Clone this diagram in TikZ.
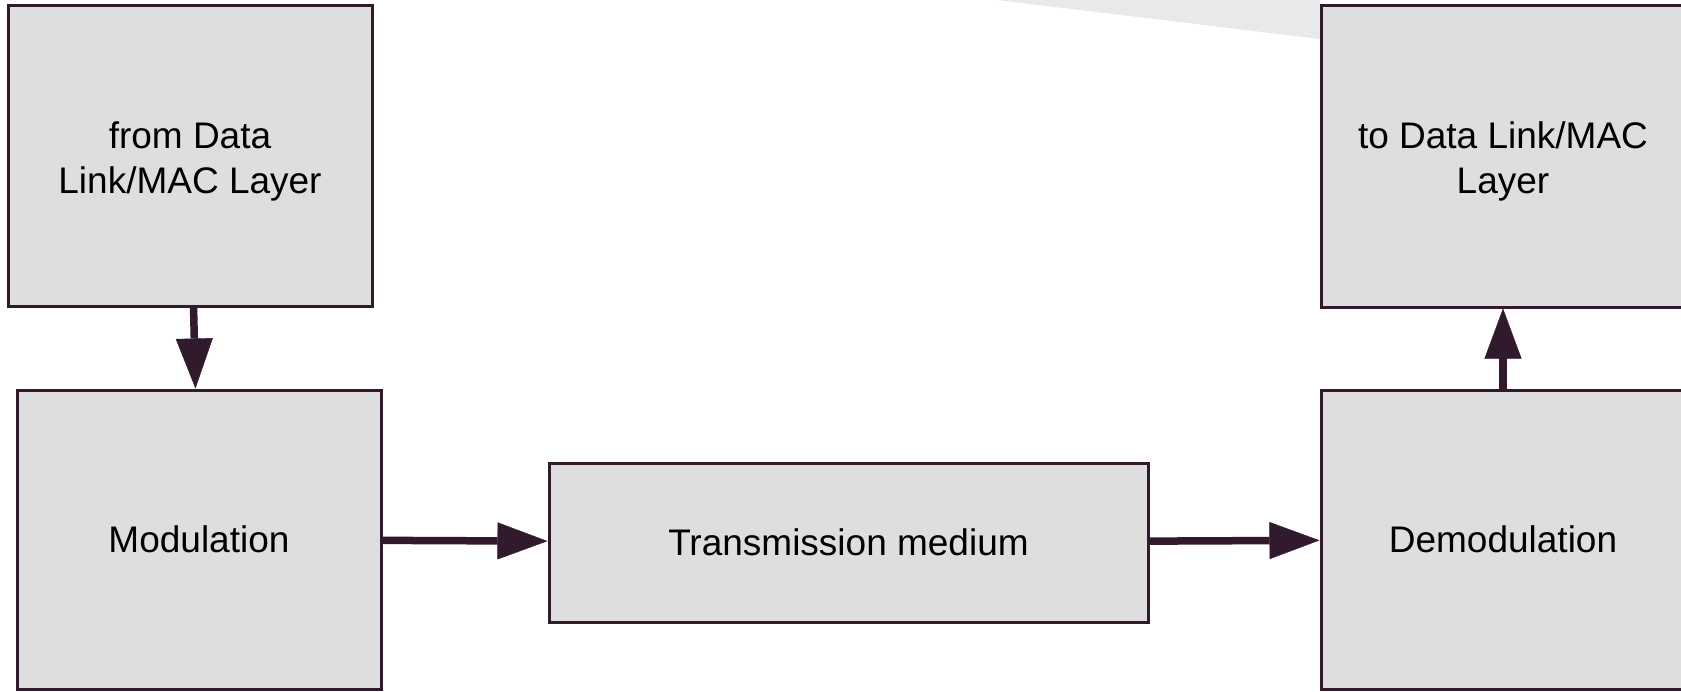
\documentclass[tikz,border=0pt]{standalone}
\usepackage{fontspec}
\setmainfont{Liberation Sans}
\usetikzlibrary{positioning,arrows.meta}

\definecolor{edgecol}{RGB}{50,26,46}
\definecolor{boxfill}{RGB}{222,222,222}
\definecolor{wedgegray}{RGB}{233,233,233}

\begin{document}
\begin{tikzpicture}[x=0.5pt,y=-0.5pt,
                    block/.style={rectangle,draw=edgecol,fill=boxfill,line width=1.5pt,
                                  inner sep=0pt,align=center,
                                  font=\fontsize{18.5}{22.5}\selectfont},
                    flow/.style={color=edgecol,line width=3.75pt,
                                 -{Triangle[length=25pt,width=18.5pt,line width=0.2pt]}}]

  \useasboundingbox (0,0) rectangle (1681,691);

  % shaded wedge behind the receiver side
  \fill[wedgegray] (997,0) -- (1320,39) -- (1320,0) -- cycle;

  \node[block,minimum width=182pt,minimum height=150.5pt] (from) at (190,155.5)
    {\raisebox{-3pt}[\height][\depth]{\begin{tabular}{@{}c@{}}from Data\\Link/MAC Layer\end{tabular}}};
  \node[block,minimum width=182pt,minimum height=149.5pt] (mod) at (199,539.5) {Modulation};
  \node[block,minimum width=299.5pt,minimum height=79.5pt] (trans) at (848.5,542.5) {Transmission medium};
  \node[block,minimum width=182pt,minimum height=149.5pt] (demod) at (1503,539.5) {Demodulation};
  \node[block,minimum width=182pt,minimum height=151pt] (to) at (1503,156)
    {\raisebox{-3pt}[\height][\depth]{\begin{tabular}{@{}c@{}}to Data Link/MAC\\Layer\end{tabular}}};

  \path[flow]
    (from)  edge (mod)
    (mod)   edge (trans)
    (trans) edge (demod)
    (demod) edge (to);

\end{tikzpicture}
\end{document}
